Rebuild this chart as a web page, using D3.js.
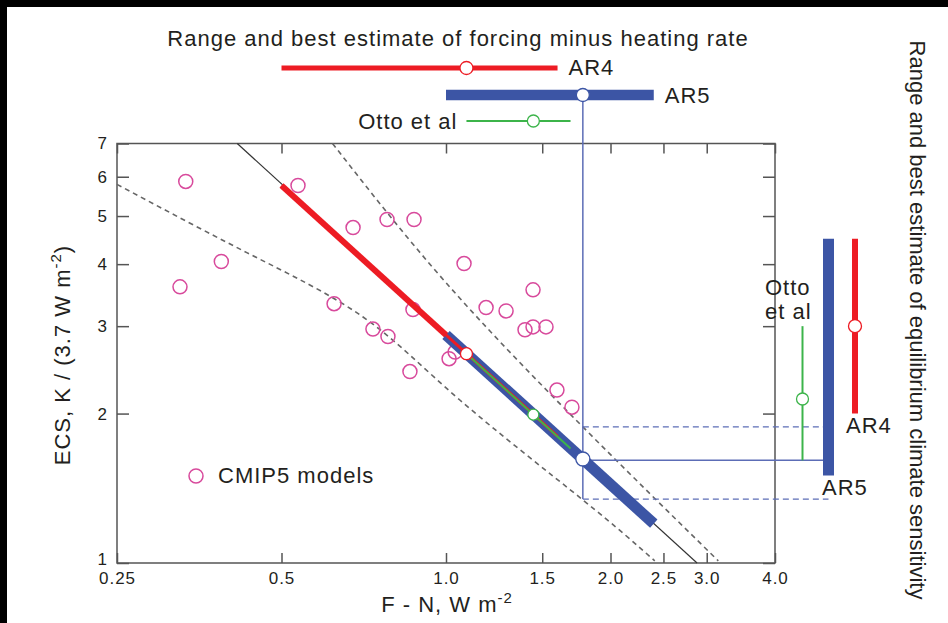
<!DOCTYPE html>
<html>
<head>
<meta charset="utf-8">
<script src="https://cdn.jsdelivr.net/npm/d3@7"></script>
<style>
  body { margin: 0; background: #fff; }
  text { font-family: "Liberation Sans", Arial, sans-serif; fill: #231f20; }
</style>
</head>
<body>
<div id="chart"></div>
<script>
// tick values and labels
var xTicks = [0.25, 0.5, 1.0, 1.5, 2.0, 2.5, 3.0, 4.0];
var xTickLabels = ["0.25", "0.5", "1.0", "1.5", "2.0", "2.5", "3.0", "4.0"];
var yTicks = [1, 2, 3, 4, 5, 6, 7];

// CMIP5 models: F - N (W m-2) and ECS (K)
var modelF = [0.334, 0.536, 0.388, 0.326, 0.676, 0.780, 0.874, 1.079, 0.624, 0.870, 0.735, 0.783,
    0.859, 1.184, 1.288, 1.443, 1.395, 1.443, 1.524, 1.596, 1.70, 1.039, 1.013];
var modelECS = [5.87, 5.76, 4.05, 3.60, 4.74, 4.92, 4.92, 4.01, 3.33, 3.24, 2.96, 2.86,
    2.43, 3.27, 3.22, 3.55, 2.95, 2.99, 2.99, 2.23, 2.06, 2.66, 2.58];

// assessments
var studies = ["AR4", "AR5", "Otto et al"];
// forcing minus heating rate, W m-2
var forcingLow = [0.5, 1.0, 1.09];
var forcingBest = [1.09, 1.78, 1.445];
var forcingHigh = [1.6, 2.4, 1.69];
// ECS at those forcings
var lineECSLow = [5.76, 2.88, 2.64];
var lineECSBest = [2.64, 1.62, 1.99];
var lineECSHigh = [1.80, 1.20, 1.70];
// equilibrium climate sensitivity ranges, K
var ecsLow = [2.0, 1.5, 1.61];
var ecsBest = [3.0, null, 2.14];
var ecsHigh = [4.5, 4.5, 3.0];

// central line and dashed envelope
var centralF = [0.415, 2.88];
var centralECS = [7.0, 1.0];
var upperF = [0.62, 1.0, 1.78, 3.15];
var upperECS = [7.0, 3.67, 1.88, 1.01];
var lowerF = [0.25, 0.432, 0.705, 1.06, 1.78, 2.41];
var lowerECS = [5.79, 4.22, 3.13, 2.13, 1.34, 1.01];

// AR5 guide lines to the right panel
var guideECS = [1.61, 1.88, 1.345];

var red = "#ed1c24", blue = "#3c55a5", green = "#3cb44a", pink = "#d84a9c", thin = "#5c6db6";

// formatting parameters
var width = 948;
var height = 623;
var plot = { left: 117, right: 775, top: 143.5, bottom: 563 };
var rowY = [68, 95, 121];        // top panel rows
var colX = [855, 828.5, 802.5];  // right panel columns

var svg = d3.select("#chart")
    .append("svg")
    .attr("width", width)
    .attr("height", height);

// dark edges of the original scan
svg.append("rect").attr("x", 0).attr("y", 0).attr("width", width).attr("height", 7).attr("fill", "#000");
svg.append("rect").attr("x", 0).attr("y", 0).attr("width", 7).attr("height", height).attr("fill", "#000");

var x = d3.scaleLog().domain([0.25, 4]).range([plot.left, plot.right]);
var y = d3.scaleLog().domain([1, 7]).range([plot.bottom, plot.top]);

// axes with inward ticks
svg.append("g")
    .attr("transform", "translate(0," + plot.bottom + ")")
    .call(d3.axisBottom(x).tickValues(xTicks)
        .tickFormat(function (d, i) { return xTickLabels[i]; })
        .tickSize(-10).tickPadding(9));
svg.append("g")
    .attr("transform", "translate(0," + plot.top + ")")
    .call(d3.axisTop(x).tickValues(xTicks).tickFormat("").tickSize(-10));
var gy = svg.append("g")
    .attr("transform", "translate(" + plot.left + ",0)")
    .call(d3.axisLeft(y).tickValues(yTicks).tickFormat(d3.format("d"))
        .tickSize(-12).tickPadding(9));
svg.append("g")
    .attr("transform", "translate(" + plot.right + ",0)")
    .call(d3.axisRight(y).tickValues(yTicks).tickFormat("").tickSize(-12));

svg.selectAll(".domain").remove();
svg.selectAll(".tick line").attr("stroke", "#555").attr("stroke-width", 1.5);
svg.selectAll(".tick text")
    .attr("fill", "#2a2a2a")
    .style("font-size", "17px")
    .style("letter-spacing", "1px");
// lift the "1" a little above the 0.25 label
gy.selectAll(".tick text").filter(function (d) { return d == 1; }).attr("dy", "0.1em");

svg.append("rect")
    .attr("x", plot.left).attr("y", plot.top)
    .attr("width", plot.right - plot.left).attr("height", plot.bottom - plot.top)
    .attr("fill", "none").attr("stroke", "#555").attr("stroke-width", 1.5);

// axis titles
var xt = svg.append("text")
    .attr("x", 447).attr("y", 612)
    .style("text-anchor", "middle").style("font-size", "22px").style("letter-spacing", "1px");
xt.append("tspan").text("F - N, W m");
xt.append("tspan").attr("dy", -9).style("font-size", "15px").text("-2");

var yt = svg.append("text")
    .attr("transform", "translate(70,355) rotate(-90)")
    .style("text-anchor", "middle").style("font-size", "22px").style("letter-spacing", "1px");
yt.append("tspan").text("ECS, K / (3.7 W m");
yt.append("tspan").attr("dy", -9).style("font-size", "15px").text("-2");
yt.append("tspan").attr("dy", 9).text(")");

svg.append("text")
    .attr("x", 458).attr("y", 46)
    .style("text-anchor", "middle").style("font-size", "22px").style("letter-spacing", "1px")
    .text("Range and best estimate of forcing minus heating rate");

svg.append("text")
    .attr("transform", "translate(910,320) rotate(90)")
    .style("text-anchor", "middle").style("font-size", "22px")
    .text("Range and best estimate of equilibrium climate sensitivity");

// envelope and central line
var line = d3.line()
    .x(function (d) { return x(d[0]); })
    .y(function (d) { return y(d[1]); });

svg.append("path")
    .attr("d", line.curve(d3.curveNatural)(d3.zip(upperF, upperECS)))
    .attr("fill", "none").attr("stroke", "#666").attr("stroke-width", 1.6)
    .attr("stroke-dasharray", "5,4");
svg.append("path")
    .attr("d", line.curve(d3.curveNatural)(d3.zip(lowerF, lowerECS)))
    .attr("fill", "none").attr("stroke", "#666").attr("stroke-width", 1.6)
    .attr("stroke-dasharray", "5,4");
line.curve(d3.curveLinear);
svg.append("path")
    .attr("d", line(d3.zip(centralF, centralECS)))
    .attr("fill", "none").attr("stroke", "#333").attr("stroke-width", 1.2);

// CMIP5 models
svg.append("g")
    .selectAll("circle")
    .data(d3.zip(modelF, modelECS))
    .enter()
    .append("circle")
    .attr("cx", function (d) { return x(d[0]); })
    .attr("cy", function (d) { return y(d[1]); })
    .attr("r", 7)
    .attr("fill", "none").attr("stroke", pink).attr("stroke-width", 1.5);

// legend
svg.append("circle").attr("cx", 196).attr("cy", 476).attr("r", 7)
    .attr("fill", "none").attr("stroke", pink).attr("stroke-width", 1.5);
svg.append("text").attr("x", 218).attr("y", 483)
    .style("font-size", "22px").style("letter-spacing", "1px").text("CMIP5 models");

// AR5 guide lines
var xAR5 = x(forcingBest[1]);
svg.append("line")
    .attr("x1", xAR5).attr("x2", xAR5)
    .attr("y1", rowY[1]).attr("y2", y(guideECS[2]))
    .attr("stroke", thin).attr("stroke-width", 1.5);
svg.append("line")
    .attr("x1", xAR5).attr("x2", colX[1] - 5)
    .attr("y1", y(guideECS[0])).attr("y2", y(guideECS[0]))
    .attr("stroke", thin).attr("stroke-width", 1.5);
[guideECS[1], guideECS[2]].forEach(function (v) {
    svg.append("line")
        .attr("x1", xAR5).attr("x2", colX[1])
        .attr("y1", y(v)).attr("y2", y(v))
        .attr("stroke", thin).attr("stroke-width", 1.3)
        .attr("stroke-dasharray", "6,4");
});

// ranges along the central line
function seg(i, color, w) {
    svg.append("line")
        .attr("x1", x(forcingLow[i])).attr("y1", y(lineECSLow[i]))
        .attr("x2", x(forcingHigh[i])).attr("y2", y(lineECSHigh[i]))
        .attr("stroke", color).attr("stroke-width", w);
}
seg(0, red, 6);
seg(1, blue, 11);
seg(0, red, 3);
seg(2, green, 2);

var colors = [red, blue, green];
var radii = [6, 7, 5.5];
[0, 2, 1].forEach(function (i) {
    svg.append("circle")
        .attr("cx", x(forcingBest[i])).attr("cy", y(lineECSBest[i]))
        .attr("r", radii[i])
        .attr("fill", "#fff").attr("stroke", colors[i]).attr("stroke-width", 1.3);
});

// top panel: forcing minus heating rate
var topWidth = [5, 10.5, 2];
studies.forEach(function (s, i) {
    svg.append("line")
        .attr("x1", x(forcingLow[i])).attr("x2", x(forcingHigh[i]))
        .attr("y1", rowY[i]).attr("y2", rowY[i])
        .attr("stroke", colors[i]).attr("stroke-width", topWidth[i]);
    svg.append("circle")
        .attr("cx", x(forcingBest[i])).attr("cy", rowY[i])
        .attr("r", i == 2 ? 6 : 6.5)
        .attr("fill", "#fff").attr("stroke", colors[i]).attr("stroke-width", 1.3);
});
svg.append("text").attr("x", x(forcingHigh[0]) + 11).attr("y", rowY[0] + 7)
    .style("font-size", "22px").style("letter-spacing", "1px").text(studies[0]);
svg.append("text").attr("x", x(forcingHigh[1]) + 11).attr("y", rowY[1] + 8)
    .style("font-size", "22px").style("letter-spacing", "1px").text(studies[1]);
svg.append("text").attr("x", x(forcingLow[2]) - 9).attr("y", rowY[2] + 8)
    .style("text-anchor", "end").style("font-size", "22px").style("letter-spacing", "1px")
    .text(studies[2]);

// right panel: equilibrium climate sensitivity
var sideWidth = [6, 11, 2];
studies.forEach(function (s, i) {
    svg.append("line")
        .attr("x1", colX[i]).attr("x2", colX[i])
        .attr("y1", y(ecsHigh[i])).attr("y2", y(ecsLow[i]))
        .attr("stroke", colors[i]).attr("stroke-width", sideWidth[i]);
    if (ecsBest[i] != null) {
        svg.append("circle")
            .attr("cx", colX[i]).attr("cy", y(ecsBest[i]))
            .attr("r", i == 2 ? 6 : 6.5)
            .attr("fill", "#fff").attr("stroke", colors[i]).attr("stroke-width", 1.3);
    }
});
svg.append("text").attr("x", 846).attr("y", 433)
    .style("font-size", "22px").style("letter-spacing", "1px").text("AR4");
svg.append("text").attr("x", 822).attr("y", 495)
    .style("font-size", "22px").style("letter-spacing", "1px").text("AR5");
svg.append("text").attr("x", 765).attr("y", 295)
    .style("font-size", "22px").style("letter-spacing", "1px").text("Otto");
svg.append("text").attr("x", 765).attr("y", 319)
    .style("font-size", "22px").style("letter-spacing", "1px").text("et al");
</script>
</body>
</html>
